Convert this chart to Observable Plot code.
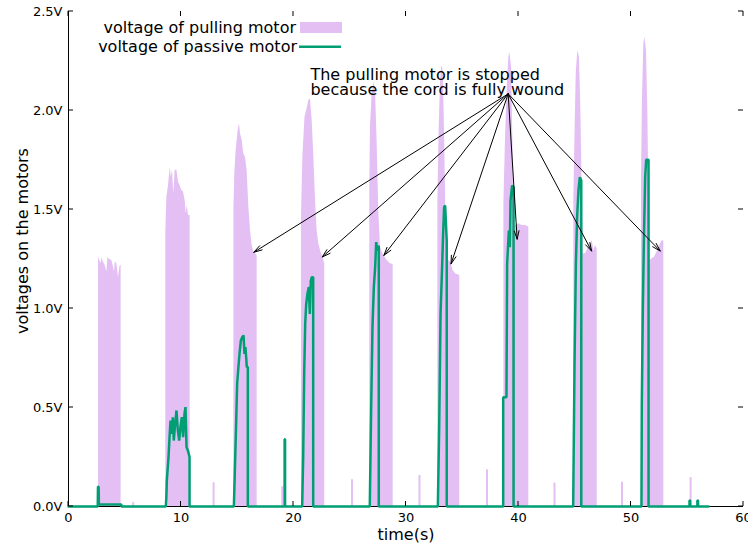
<!DOCTYPE html>
<html><head><meta charset="utf-8">
<script src="https://cdn.jsdelivr.net/npm/d3@7"></script>
<script src="https://cdn.jsdelivr.net/npm/@observablehq/plot@0.6"></script>
<style>body{margin:0;background:#fff;}</style>
</head><body><div id="chart"></div>
<script>
// ---- data ----
const xTicks = [0, 10, 20, 30, 40, 50, 60];
const yTicks = [0, 0.5, 1.0, 1.5, 2.0, 2.5];
const seriesNames = ["voltage of pulling motor", "voltage of passive motor"];
const xTitle = "time(s)";
const yTitle = "voltages on the motors";
const annotationLines = ["The pulling motor is stopped", "because the cord is fully wound"];

// pulling motor (envelope of the dense impulses)
const pullT = [0,
  2.67,2.67,2.90,2.96,3.11,3.26,3.41,3.50,3.70,3.85,4.00,4.09,4.15,4.30,4.44,4.59,4.68,4.68,
  8.65,8.65,8.74,8.89,9.04,9.13,9.24,9.36,9.48,9.63,9.78,9.92,10.07,10.22,10.37,10.46,10.55,10.67,10.81,10.81,
  14.70,14.70,14.78,14.90,15.08,15.20,15.29,15.44,15.58,15.73,15.88,16.03,16.18,16.33,16.47,16.62,16.77,16.77,
  20.71,20.71,20.83,21.02,21.24,21.36,21.51,21.66,21.81,21.96,22.10,22.25,22.40,22.55,22.78,22.78,
  26.78,26.78,26.84,26.99,27.14,27.29,27.44,27.58,27.73,27.88,28.03,28.33,28.62,28.86,28.86,
  32.83,32.83,32.95,33.07,33.18,33.30,33.42,33.54,33.66,33.81,33.96,34.19,34.40,34.78,34.78,
  38.70,38.70,38.84,38.99,39.14,39.23,39.38,39.50,39.59,39.73,40.03,40.33,40.62,40.92,40.92,
  44.92,44.92,45.01,45.13,45.27,45.42,45.54,45.66,45.75,45.96,46.25,46.55,46.70,46.85,47.00,47.00,
  50.93,50.93,51.02,51.14,51.23,51.38,51.50,51.61,51.67,51.88,52.08,52.32,52.56,52.77,52.92,52.92,
  60];
const pullV = [0,
  0,1.259,1.226,1.256,1.234,1.217,1.184,1.256,1.246,1.242,1.209,1.184,1.234,1.226,1.158,1.217,1.217,0,
  0,1.385,1.562,1.621,1.714,1.663,1.697,1.579,1.697,1.700,1.638,1.621,1.596,1.588,1.545,1.478,1.520,1.470,1.470,0,
  0,1.495,1.680,1.798,1.899,1.933,1.882,1.848,1.781,1.764,1.697,1.512,1.394,1.318,1.284,1.276,1.268,0,
  0,1.461,1.764,1.966,2.017,2.050,2.059,1.949,1.764,1.545,1.394,1.327,1.293,1.268,1.226,0,
  0,1.600,1.916,2.084,2.143,2.101,1.832,1.495,1.310,1.285,1.268,1.242,1.226,1.222,0,
  0,1.529,1.916,2.152,2.227,2.202,1.916,1.495,1.276,1.242,1.234,1.192,1.175,1.167,0,
  0,1.530,1.848,2.101,2.269,2.294,2.219,1.848,1.411,1.419,1.428,1.419,1.419,1.411,0,
  0,1.550,1.848,2.185,2.303,2.269,2.017,1.596,1.276,1.276,1.310,1.343,1.293,1.318,1.301,0,
  0,1.646,2.067,2.337,2.370,2.303,1.983,1.478,1.242,1.251,1.259,1.285,1.318,1.343,1.340,0,
  0];

// isolated short pulses of the pulling motor
const spikeT = [5.75, 12.9, 19.0, 25.2, 31.2, 37.2, 43.2, 49.2, 55.3];
const spikeV = [0.02, 0.12, 0.10, 0.135, 0.157, 0.186, 0.118, 0.123, 0.146];

// passive motor
const passT = [0, 2.60, 2.62, 2.68, 2.70, 4.70, 4.70,
  8.65, 8.70, 8.74, 8.89, 8.98, 9.07, 9.19, 9.27, 9.36, 9.48, 9.60, 9.72, 9.84, 9.95, 10.07, 10.19, 10.31, 10.40, 10.49, 10.61, 10.76, 10.76,
  14.70, 14.78, 14.90, 14.99, 15.08, 15.20, 15.32, 15.44, 15.56, 15.64, 15.73, 15.85, 15.94, 15.94,
  19.21, 19.21, 19.25, 19.25,
  20.77, 20.86, 20.95, 21.04, 21.13, 21.24, 21.36, 21.45, 21.54, 21.63, 21.75, 21.75,
  26.78, 26.90, 27.02, 27.14, 27.26, 27.35, 27.44, 27.58, 27.58,
  32.83, 32.95, 33.07, 33.18, 33.30, 33.39, 33.48, 33.62, 33.62,
  38.64, 38.64, 38.93, 38.99, 39.14, 39.23, 39.29, 39.43, 39.56, 39.56,
  44.86, 44.98, 45.10, 45.21, 45.33, 45.45, 45.58, 45.58,
  50.93, 50.96, 51.05, 51.14, 51.26, 51.35, 51.56, 51.56,
  55.20, 55.20, 55.26, 55.26, 55.90, 55.90, 55.96, 55.96, 56.90];
const passV = [0, 0, 0.10, 0.10, 0.01, 0.01, 0,
  0, 0.05, 0.131, 0.249, 0.350, 0.434, 0.367, 0.451, 0.333, 0.418, 0.485, 0.384, 0.333, 0.401, 0.451, 0.350, 0.468, 0.502, 0.300, 0.283, 0.250, 0,
  0, 0.165, 0.418, 0.620, 0.687, 0.771, 0.838, 0.855, 0.864, 0.771, 0.805, 0.704, 0.704, 0,
  0, 0.34, 0.34, 0,
  0, 0.249, 0.670, 0.923, 1.024, 1.074, 1.108, 0.973, 1.141, 1.158, 1.158, 0,
  0, 0.485, 0.906, 1.108, 1.209, 1.335, 1.293, 1.318, 0,
  0, 0.401, 0.973, 1.158, 1.377, 1.512, 1.520, 1.343, 0,
  0, 0.552, 0.552, 1.226, 1.394, 1.310, 1.545, 1.621, 1.613, 0,
  0, 0.720, 1.226, 1.461, 1.596, 1.663, 1.646, 0,
  0, 0.519, 0.990, 1.327, 1.663, 1.751, 1.751, 0,
  0, 0.03, 0.03, 0, 0, 0.03, 0.03, 0, 0];

// annotation arrows: common origin and the tips
const arrowFrom = [39.08, 2.084];
const arrowTipT = [16.47, 22.55, 28.03, 34.00, 39.88, 46.50, 52.60];
const arrowTipV = [1.284, 1.260, 1.268, 1.225, 1.350, 1.290, 1.290];

// ---- tables ----
const pull = pullT.map((t, i) => ({t, v: pullV[i]}));
const spikes = spikeT.map((t, i) => ({t, v: spikeV[i]}));
const pass = passT.map((t, i) => ({t, v: passV[i]}));
const arrows = arrowTipT.map((t, i) => ({t1: arrowFrom[0], v1: arrowFrom[1], t2: t, v2: arrowTipV[i]}));
const notes = annotationLines.map((s, i) => ({s, i}));

const PURPLE = "#9400d3", GREEN = "#009e73";
const FONT = "DejaVu Sans, sans-serif";

const plot = Plot.plot({
  width: 748, height: 550,
  marginLeft: 68, marginRight: 5, marginTop: 11, marginBottom: 44,
  style: {fontFamily: FONT, fontSize: "13px", background: "#fff", color: "#000"},
  x: {domain: [0, 60], ticks: xTicks},
  y: {domain: [0, 2.5], ticks: yTicks},
  marks: [
    Plot.areaY(pull, {x: "t", y: "v", fill: PURPLE, fillOpacity: 0.25, curve: "linear"}),
    Plot.ruleX(spikes, {x: "t", y1: 0, y2: "v", stroke: PURPLE, strokeOpacity: 0.25, strokeWidth: 2}),
    Plot.ruleX([0], {stroke: "#000", strokeWidth: 1}),
    Plot.ruleY([0], {stroke: "#000", strokeWidth: 1}),
    Plot.line(pass, {x: "t", y: "v", stroke: GREEN, strokeWidth: 2.5, strokeLinejoin: "miter"}),
    Plot.arrow(arrows, {x1: "t1", y1: "v1", x2: "t2", y2: "v2", stroke: "#000", strokeWidth: 1, headLength: 13, headAngle: 32}),
    Plot.text(notes, {x: () => 21.5, y: d => 2.18 - d.i * 0.076, text: "s", textAnchor: "start", fontSize: 16, fill: "#000"}),
    Plot.axisX({ticks: xTicks, tickSize: 0, tickPadding: 6, fontSize: 13, label: null, tickFormat: d => String(d)}),
    Plot.axisY({ticks: yTicks, tickSize: 0, tickPadding: 6, fontSize: 13, label: null, tickFormat: d => d.toFixed(1) + "V"}),
    Plot.text([xTitle], {frameAnchor: "bottom", dy: 33, text: d => d, fontSize: 16, fill: "#000"}),
    Plot.text([yTitle], {frameAnchor: "left", textAnchor: "middle", dx: -46, dy: -18, rotate: -90, text: d => d, fontSize: 16, fill: "#000"})
  ]
});

// inward + mirrored ticks and the in-plot legend (via the plot's own scales)
const sx = plot.scale("x"), sy = plot.scale("y");
const svg = d3.select(plot);
const g = svg.append("g").attr("stroke", "#000").attr("stroke-width", 1);
const x0 = sx.apply(0), x1 = sx.apply(60), y0 = sy.apply(0), y1 = sy.apply(2.5), T = 5;
for (const t of xTicks) {
  const px = sx.apply(t);
  g.append("line").attr("x1", px).attr("x2", px).attr("y1", y0).attr("y2", y0 - T);
  g.append("line").attr("x1", px).attr("x2", px).attr("y1", y1).attr("y2", y1 + T);
}
for (const v of yTicks) {
  const py = sy.apply(v);
  g.append("line").attr("x1", x0).attr("x2", x0 + T).attr("y1", py).attr("y2", py);
  g.append("line").attr("x1", x1).attr("x2", x1 - T).attr("y1", py).attr("y2", py);
}
const lg = svg.append("g").attr("font-family", FONT).attr("font-size", 16);
lg.append("text").attr("x", 296).attr("y", 32.5).attr("text-anchor", "end").text(seriesNames[0]);
lg.append("rect").attr("x", 300).attr("y", 22).attr("width", 42).attr("height", 11).attr("fill", PURPLE).attr("fill-opacity", 0.25);
lg.append("text").attr("x", 297).attr("y", 51.5).attr("text-anchor", "end").text(seriesNames[1]);
lg.append("line").attr("x1", 299).attr("x2", 341).attr("y1", 46.7).attr("y2", 46.7).attr("stroke", GREEN).attr("stroke-width", 2.5);

document.getElementById("chart").appendChild(plot);
</script>
</body></html>
